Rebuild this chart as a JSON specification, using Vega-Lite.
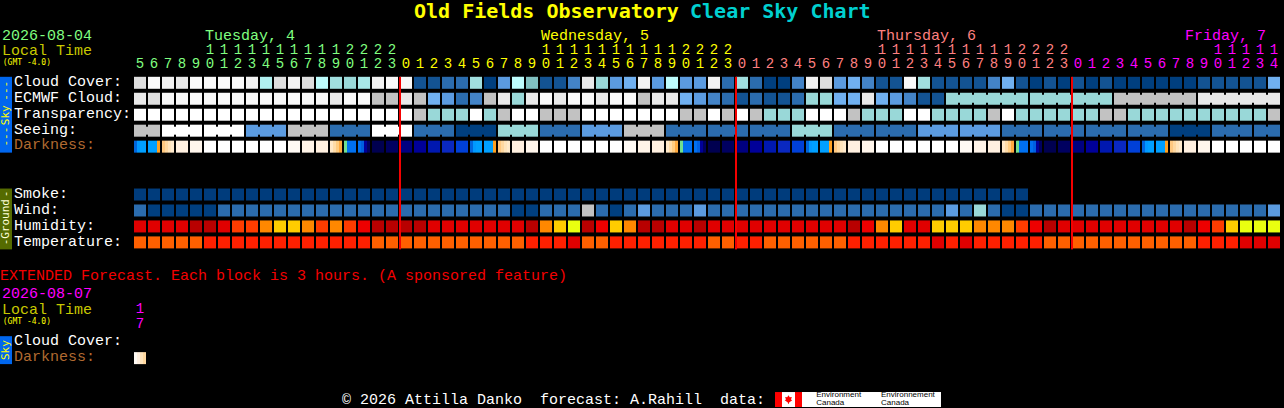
{"$schema":"https://vega.github.io/schema/vega-lite/v6.json","width":1284,"height":408,"padding":0,"autosize":{"type":"fit","contains":"padding"},"background":"#000000","config":{"view":{"stroke":null}},
"datasets":{
"cells":[
{"c":0,"r":0,"v":"d"},{"c":1,"r":0,"v":"f"},{"c":2,"r":0,"v":"n"},{"c":3,"r":0,"v":"e"},{"c":4,"r":0,"v":"f"},{"c":5,"r":0,"v":"f"},{"c":6,"r":0,"v":"f"},{"c":7,"r":0,"v":"f"},{"c":8,"r":0,"v":"n"},{"c":9,"r":0,"v":"u"},{"c":10,"r":0,"v":"d"},{"c":11,"r":0,"v":"n"},{"c":12,"r":0,"v":"d"},{"c":13,"r":0,"v":"y"},{"c":14,"r":0,"v":"a"},{"c":15,"r":0,"v":"t"},{"c":16,"r":0,"v":"i"},{"c":17,"r":0,"v":"n"},{"c":18,"r":0,"v":"f"},{"c":19,"r":0,"v":"f"},{"c":20,"r":0,"v":"1"},{"c":21,"r":0,"v":"1"},{"c":22,"r":0,"v":"2"},{"c":23,"r":0,"v":"2"},{"c":24,"r":0,"v":"a"},{"c":25,"r":0,"v":"0"},{"c":26,"r":0,"v":"4"},{"c":27,"r":0,"v":"y"},{"c":28,"r":0,"v":"x"},{"c":29,"r":0,"v":"1"},{"c":30,"r":0,"v":"1"},{"c":31,"r":0,"v":"3"},{"c":32,"r":0,"v":"e"},{"c":33,"r":0,"v":"t"},{"c":34,"r":0,"v":"4"},{"c":35,"r":0,"v":"5"},{"c":36,"r":0,"v":"n"},{"c":37,"r":0,"v":"4"},{"c":38,"r":0,"v":"y"},{"c":39,"r":0,"v":"4"},{"c":40,"r":0,"v":"4"},{"c":41,"r":0,"v":"n"},{"c":42,"r":0,"v":"2"},{"c":43,"r":0,"v":"a"},{"c":44,"r":0,"v":"2"},{"c":45,"r":0,"v":"0"},{"c":46,"r":0,"v":"0"},{"c":47,"r":0,"v":"3"},{"c":48,"r":0,"v":"n"},{"c":49,"r":0,"v":"d"},{"c":50,"r":0,"v":"4"},{"c":51,"r":0,"v":"5"},{"c":52,"r":0,"v":"3"},{"c":53,"r":0,"v":"1"},{"c":54,"r":0,"v":"1"},{"c":55,"r":0,"v":"f"},{"c":56,"r":0,"v":"a"},{"c":57,"r":0,"v":"1"},{"c":58,"r":0,"v":"1"},{"c":59,"r":0,"v":"1"},{"c":60,"r":0,"v":"1"},{"c":61,"r":0,"v":"3"},{"c":62,"r":0,"v":"5"},{"c":63,"r":0,"v":"1"},{"c":64,"r":0,"v":"0"},{"c":65,"r":0,"v":"1"},{"c":66,"r":0,"v":"0"},{"c":67,"r":0,"v":"1"},{"c":68,"r":0,"v":"0"},{"c":69,"r":0,"v":"1"},{"c":70,"r":0,"v":"0"},{"c":71,"r":0,"v":"0"},{"c":72,"r":0,"v":"0"},{"c":73,"r":0,"v":"0"},{"c":74,"r":0,"v":"0"},{"c":75,"r":0,"v":"0"},{"c":76,"r":0,"v":"1"},{"c":77,"r":0,"v":"1"},{"c":78,"r":0,"v":"1"},{"c":79,"r":0,"v":"1"},{"c":80,"r":0,"v":"1"},{"c":81,"r":0,"v":"5"},
{"c":0,"r":1,"v":"e"},{"c":1,"r":1,"v":"d"},{"c":2,"r":1,"v":"f"},{"c":3,"r":1,"v":"f"},{"c":4,"r":1,"v":"f"},{"c":5,"r":1,"v":"f"},{"c":6,"r":1,"v":"f"},{"c":7,"r":1,"v":"f"},{"c":8,"r":1,"v":"f"},{"c":9,"r":1,"v":"f"},{"c":10,"r":1,"v":"f"},{"c":11,"r":1,"v":"f"},{"c":12,"r":1,"v":"f"},{"c":13,"r":1,"v":"f"},{"c":14,"r":1,"v":"e"},{"c":15,"r":1,"v":"f"},{"c":16,"r":1,"v":"f"},{"c":17,"r":1,"v":"g"},{"c":18,"r":1,"v":"g"},{"c":19,"r":1,"v":"e"},{"c":20,"r":1,"v":"g"},{"c":21,"r":1,"v":"5"},{"c":22,"r":1,"v":"4"},{"c":23,"r":1,"v":"2"},{"c":24,"r":1,"v":"3"},{"c":25,"r":1,"v":"g"},{"c":26,"r":1,"v":"e"},{"c":27,"r":1,"v":"t"},{"c":28,"r":1,"v":"e"},{"c":29,"r":1,"v":"f"},{"c":30,"r":1,"v":"e"},{"c":31,"r":1,"v":"f"},{"c":32,"r":1,"v":"f"},{"c":33,"r":1,"v":"e"},{"c":34,"r":1,"v":"f"},{"c":35,"r":1,"v":"f"},{"c":36,"r":1,"v":"g"},{"c":37,"r":1,"v":"e"},{"c":38,"r":1,"v":"e"},{"c":39,"r":1,"v":"5"},{"c":40,"r":1,"v":"4"},{"c":41,"r":1,"v":"3"},{"c":42,"r":1,"v":"2"},{"c":43,"r":1,"v":"1"},{"c":44,"r":1,"v":"2"},{"c":45,"r":1,"v":"1"},{"c":46,"r":1,"v":"1"},{"c":47,"r":1,"v":"2"},{"c":48,"r":1,"v":"t"},{"c":49,"r":1,"v":"t"},{"c":50,"r":1,"v":"5"},{"c":51,"r":1,"v":"5"},{"c":52,"r":1,"v":"e"},{"c":53,"r":1,"v":"5"},{"c":54,"r":1,"v":"4"},{"c":55,"r":1,"v":"3"},{"c":56,"r":1,"v":"1"},{"c":57,"r":1,"v":"1"},{"c":58,"r":1,"v":"t"},{"c":59,"r":1,"v":"t"},{"c":60,"r":1,"v":"t"},{"c":61,"r":1,"v":"t"},{"c":62,"r":1,"v":"t"},{"c":63,"r":1,"v":"t"},{"c":64,"r":1,"v":"t"},{"c":65,"r":1,"v":"t"},{"c":66,"r":1,"v":"t"},{"c":67,"r":1,"v":"t"},{"c":68,"r":1,"v":"t"},{"c":69,"r":1,"v":"t"},{"c":70,"r":1,"v":"g"},{"c":71,"r":1,"v":"g"},{"c":72,"r":1,"v":"g"},{"c":73,"r":1,"v":"g"},{"c":74,"r":1,"v":"g"},{"c":75,"r":1,"v":"g"},{"c":76,"r":1,"v":"e"},{"c":77,"r":1,"v":"e"},{"c":78,"r":1,"v":"e"},{"c":79,"r":1,"v":"e"},{"c":80,"r":1,"v":"e"},{"c":81,"r":1,"v":"e"},
{"c":0,"r":2,"v":"W"},{"c":1,"r":2,"v":"W"},{"c":2,"r":2,"v":"W"},{"c":3,"r":2,"v":"W"},{"c":4,"r":2,"v":"W"},{"c":5,"r":2,"v":"W"},{"c":6,"r":2,"v":"W"},{"c":7,"r":2,"v":"W"},{"c":8,"r":2,"v":"W"},{"c":9,"r":2,"v":"W"},{"c":10,"r":2,"v":"W"},{"c":11,"r":2,"v":"W"},{"c":12,"r":2,"v":"W"},{"c":13,"r":2,"v":"W"},{"c":14,"r":2,"v":"W"},{"c":15,"r":2,"v":"W"},{"c":16,"r":2,"v":"W"},{"c":17,"r":2,"v":"W"},{"c":18,"r":2,"v":"W"},{"c":19,"r":2,"v":"W"},{"c":20,"r":2,"v":"g"},{"c":21,"r":2,"v":"t"},{"c":22,"r":2,"v":"t"},{"c":23,"r":2,"v":"t"},{"c":24,"r":2,"v":"W"},{"c":25,"r":2,"v":"t"},{"c":26,"r":2,"v":"g"},{"c":27,"r":2,"v":"W"},{"c":28,"r":2,"v":"W"},{"c":29,"r":2,"v":"g"},{"c":30,"r":2,"v":"g"},{"c":31,"r":2,"v":"g"},{"c":32,"r":2,"v":"W"},{"c":33,"r":2,"v":"W"},{"c":34,"r":2,"v":"W"},{"c":35,"r":2,"v":"W"},{"c":36,"r":2,"v":"W"},{"c":37,"r":2,"v":"W"},{"c":38,"r":2,"v":"W"},{"c":39,"r":2,"v":"g"},{"c":40,"r":2,"v":"g"},{"c":41,"r":2,"v":"W"},{"c":42,"r":2,"v":"g"},{"c":43,"r":2,"v":"W"},{"c":44,"r":2,"v":"g"},{"c":45,"r":2,"v":"t"},{"c":46,"r":2,"v":"t"},{"c":47,"r":2,"v":"t"},{"c":48,"r":2,"v":"W"},{"c":49,"r":2,"v":"W"},{"c":50,"r":2,"v":"W"},{"c":51,"r":2,"v":"g"},{"c":52,"r":2,"v":"t"},{"c":53,"r":2,"v":"t"},{"c":54,"r":2,"v":"t"},{"c":55,"r":2,"v":"W"},{"c":56,"r":2,"v":"W"},{"c":57,"r":2,"v":"t"},{"c":58,"r":2,"v":"t"},{"c":59,"r":2,"v":"t"},{"c":60,"r":2,"v":"t"},{"c":61,"r":2,"v":"g"},{"c":62,"r":2,"v":"W"},{"c":63,"r":2,"v":"t"},{"c":64,"r":2,"v":"t"},{"c":65,"r":2,"v":"t"},{"c":66,"r":2,"v":"t"},{"c":67,"r":2,"v":"t"},{"c":68,"r":2,"v":"t"},{"c":69,"r":2,"v":"g"},{"c":70,"r":2,"v":"g"},{"c":71,"r":2,"v":"t"},{"c":72,"r":2,"v":"t"},{"c":73,"r":2,"v":"t"},{"c":74,"r":2,"v":"t"},{"c":75,"r":2,"v":"t"},{"c":76,"r":2,"v":"t"},{"c":77,"r":2,"v":"t"},{"c":78,"r":2,"v":"t"},{"c":79,"r":2,"v":"t"},{"c":80,"r":2,"v":"t"},{"c":81,"r":2,"v":"g"},
{"c":0,"r":3,"v":"g"},{"c":1,"r":3,"v":"g"},{"c":2,"r":3,"v":"W"},{"c":3,"r":3,"v":"W"},{"c":4,"r":3,"v":"W"},{"c":5,"r":3,"v":"W"},{"c":6,"r":3,"v":"W"},{"c":7,"r":3,"v":"W"},{"c":8,"r":3,"v":"4"},{"c":9,"r":3,"v":"4"},{"c":10,"r":3,"v":"4"},{"c":11,"r":3,"v":"g"},{"c":12,"r":3,"v":"g"},{"c":13,"r":3,"v":"g"},{"c":14,"r":3,"v":"2"},{"c":15,"r":3,"v":"2"},{"c":16,"r":3,"v":"2"},{"c":17,"r":3,"v":"W"},{"c":18,"r":3,"v":"W"},{"c":19,"r":3,"v":"W"},{"c":20,"r":3,"v":"2"},{"c":21,"r":3,"v":"2"},{"c":22,"r":3,"v":"2"},{"c":23,"r":3,"v":"0"},{"c":24,"r":3,"v":"0"},{"c":25,"r":3,"v":"0"},{"c":26,"r":3,"v":"t"},{"c":27,"r":3,"v":"t"},{"c":28,"r":3,"v":"t"},{"c":29,"r":3,"v":"2"},{"c":30,"r":3,"v":"2"},{"c":31,"r":3,"v":"2"},{"c":32,"r":3,"v":"4"},{"c":33,"r":3,"v":"4"},{"c":34,"r":3,"v":"4"},{"c":35,"r":3,"v":"g"},{"c":36,"r":3,"v":"g"},{"c":37,"r":3,"v":"g"},{"c":38,"r":3,"v":"2"},{"c":39,"r":3,"v":"2"},{"c":40,"r":3,"v":"2"},{"c":41,"r":3,"v":"2"},{"c":42,"r":3,"v":"2"},{"c":43,"r":3,"v":"2"},{"c":44,"r":3,"v":"2"},{"c":45,"r":3,"v":"2"},{"c":46,"r":3,"v":"2"},{"c":47,"r":3,"v":"t"},{"c":48,"r":3,"v":"t"},{"c":49,"r":3,"v":"t"},{"c":50,"r":3,"v":"2"},{"c":51,"r":3,"v":"2"},{"c":52,"r":3,"v":"2"},{"c":53,"r":3,"v":"2"},{"c":54,"r":3,"v":"2"},{"c":55,"r":3,"v":"2"},{"c":56,"r":3,"v":"4"},{"c":57,"r":3,"v":"4"},{"c":58,"r":3,"v":"4"},{"c":59,"r":3,"v":"4"},{"c":60,"r":3,"v":"4"},{"c":61,"r":3,"v":"4"},{"c":62,"r":3,"v":"2"},{"c":63,"r":3,"v":"2"},{"c":64,"r":3,"v":"2"},{"c":65,"r":3,"v":"2"},{"c":66,"r":3,"v":"2"},{"c":67,"r":3,"v":"2"},{"c":68,"r":3,"v":"2"},{"c":69,"r":3,"v":"2"},{"c":70,"r":3,"v":"2"},{"c":71,"r":3,"v":"2"},{"c":72,"r":3,"v":"2"},{"c":73,"r":3,"v":"2"},{"c":74,"r":3,"v":"0"},{"c":75,"r":3,"v":"0"},{"c":76,"r":3,"v":"0"},{"c":77,"r":3,"v":"2"},{"c":78,"r":3,"v":"2"},{"c":79,"r":3,"v":"2"},{"c":80,"r":3,"v":"2"},{"c":81,"r":3,"v":"2"},
{"c":3,"r":4,"v":"p5"},{"c":4,"r":4,"v":"p6"},{"c":5,"r":4,"v":"W"},{"c":6,"r":4,"v":"W"},{"c":7,"r":4,"v":"W"},{"c":8,"r":4,"v":"W"},{"c":9,"r":4,"v":"W"},{"c":10,"r":4,"v":"W"},{"c":11,"r":4,"v":"p7"},{"c":12,"r":4,"v":"p8"},{"c":13,"r":4,"v":"p5"},{"c":17,"r":4,"v":"n3"},{"c":18,"r":4,"v":"n2"},{"c":19,"r":4,"v":"n4"},{"c":20,"r":4,"v":"n1"},{"c":21,"r":4,"v":"n5"},{"c":22,"r":4,"v":"n6"},{"c":23,"r":4,"v":"n7"},{"c":27,"r":4,"v":"p5"},{"c":28,"r":4,"v":"p6"},{"c":29,"r":4,"v":"W"},{"c":30,"r":4,"v":"W"},{"c":31,"r":4,"v":"W"},{"c":32,"r":4,"v":"W"},{"c":33,"r":4,"v":"W"},{"c":34,"r":4,"v":"W"},{"c":35,"r":4,"v":"p7"},{"c":36,"r":4,"v":"p8"},{"c":37,"r":4,"v":"p5"},{"c":41,"r":4,"v":"n3"},{"c":42,"r":4,"v":"n2"},{"c":43,"r":4,"v":"n4"},{"c":44,"r":4,"v":"n1"},{"c":45,"r":4,"v":"n5"},{"c":46,"r":4,"v":"n6"},{"c":47,"r":4,"v":"n7"},{"c":51,"r":4,"v":"p5"},{"c":52,"r":4,"v":"p6"},{"c":53,"r":4,"v":"W"},{"c":54,"r":4,"v":"W"},{"c":55,"r":4,"v":"W"},{"c":56,"r":4,"v":"W"},{"c":57,"r":4,"v":"W"},{"c":58,"r":4,"v":"W"},{"c":59,"r":4,"v":"p7"},{"c":60,"r":4,"v":"p8"},{"c":61,"r":4,"v":"p5"},{"c":65,"r":4,"v":"n3"},{"c":66,"r":4,"v":"n2"},{"c":67,"r":4,"v":"n4"},{"c":68,"r":4,"v":"n1"},{"c":69,"r":4,"v":"n5"},{"c":70,"r":4,"v":"n6"},{"c":71,"r":4,"v":"n7"},{"c":75,"r":4,"v":"p5"},{"c":76,"r":4,"v":"p6"},{"c":77,"r":4,"v":"W"},{"c":78,"r":4,"v":"W"},{"c":79,"r":4,"v":"W"},{"c":80,"r":4,"v":"W"},{"c":81,"r":4,"v":"W"},
{"c":0,"r":7,"v":"s"},{"c":1,"r":7,"v":"s"},{"c":2,"r":7,"v":"s"},{"c":3,"r":7,"v":"s"},{"c":4,"r":7,"v":"s"},{"c":5,"r":7,"v":"s"},{"c":6,"r":7,"v":"s"},{"c":7,"r":7,"v":"s"},{"c":8,"r":7,"v":"s"},{"c":9,"r":7,"v":"s"},{"c":10,"r":7,"v":"s"},{"c":11,"r":7,"v":"s"},{"c":12,"r":7,"v":"s"},{"c":13,"r":7,"v":"s"},{"c":14,"r":7,"v":"s"},{"c":15,"r":7,"v":"s"},{"c":16,"r":7,"v":"s"},{"c":17,"r":7,"v":"s"},{"c":18,"r":7,"v":"s"},{"c":19,"r":7,"v":"s"},{"c":20,"r":7,"v":"s"},{"c":21,"r":7,"v":"s"},{"c":22,"r":7,"v":"s"},{"c":23,"r":7,"v":"s"},{"c":24,"r":7,"v":"s"},{"c":25,"r":7,"v":"s"},{"c":26,"r":7,"v":"s"},{"c":27,"r":7,"v":"s"},{"c":28,"r":7,"v":"s"},{"c":29,"r":7,"v":"s"},{"c":30,"r":7,"v":"s"},{"c":31,"r":7,"v":"s"},{"c":32,"r":7,"v":"s"},{"c":33,"r":7,"v":"s"},{"c":34,"r":7,"v":"s"},{"c":35,"r":7,"v":"s"},{"c":36,"r":7,"v":"s"},{"c":37,"r":7,"v":"s"},{"c":38,"r":7,"v":"s"},{"c":39,"r":7,"v":"s"},{"c":40,"r":7,"v":"s"},{"c":41,"r":7,"v":"s"},{"c":42,"r":7,"v":"s"},{"c":43,"r":7,"v":"s"},{"c":44,"r":7,"v":"s"},{"c":45,"r":7,"v":"s"},{"c":46,"r":7,"v":"s"},{"c":47,"r":7,"v":"s"},{"c":48,"r":7,"v":"s"},{"c":49,"r":7,"v":"s"},{"c":50,"r":7,"v":"s"},{"c":51,"r":7,"v":"s"},{"c":52,"r":7,"v":"s"},{"c":53,"r":7,"v":"s"},{"c":54,"r":7,"v":"s"},{"c":55,"r":7,"v":"s"},{"c":56,"r":7,"v":"s"},{"c":57,"r":7,"v":"s"},{"c":58,"r":7,"v":"s"},{"c":59,"r":7,"v":"s"},{"c":60,"r":7,"v":"s"},{"c":61,"r":7,"v":"s"},{"c":62,"r":7,"v":"s"},{"c":63,"r":7,"v":"s"},
{"c":0,"r":8,"v":"2"},{"c":1,"r":8,"v":"0"},{"c":2,"r":8,"v":"0"},{"c":3,"r":8,"v":"0"},{"c":4,"r":8,"v":"0"},{"c":5,"r":8,"v":"0"},{"c":6,"r":8,"v":"2"},{"c":7,"r":8,"v":"2"},{"c":8,"r":8,"v":"2"},{"c":9,"r":8,"v":"2"},{"c":10,"r":8,"v":"2"},{"c":11,"r":8,"v":"2"},{"c":12,"r":8,"v":"2"},{"c":13,"r":8,"v":"2"},{"c":14,"r":8,"v":"2"},{"c":15,"r":8,"v":"2"},{"c":16,"r":8,"v":"2"},{"c":17,"r":8,"v":"2"},{"c":18,"r":8,"v":"2"},{"c":19,"r":8,"v":"2"},{"c":20,"r":8,"v":"2"},{"c":21,"r":8,"v":"2"},{"c":22,"r":8,"v":"2"},{"c":23,"r":8,"v":"2"},{"c":24,"r":8,"v":"2"},{"c":25,"r":8,"v":"2"},{"c":26,"r":8,"v":"2"},{"c":27,"r":8,"v":"0"},{"c":28,"r":8,"v":"0"},{"c":29,"r":8,"v":"2"},{"c":30,"r":8,"v":"2"},{"c":31,"r":8,"v":"2"},{"c":32,"r":8,"v":"g"},{"c":33,"r":8,"v":"2"},{"c":34,"r":8,"v":"0"},{"c":35,"r":8,"v":"2"},{"c":36,"r":8,"v":"4"},{"c":37,"r":8,"v":"2"},{"c":38,"r":8,"v":"2"},{"c":39,"r":8,"v":"2"},{"c":40,"r":8,"v":"4"},{"c":41,"r":8,"v":"2"},{"c":42,"r":8,"v":"2"},{"c":43,"r":8,"v":"2"},{"c":44,"r":8,"v":"2"},{"c":45,"r":8,"v":"2"},{"c":46,"r":8,"v":"2"},{"c":47,"r":8,"v":"2"},{"c":48,"r":8,"v":"2"},{"c":49,"r":8,"v":"2"},{"c":50,"r":8,"v":"2"},{"c":51,"r":8,"v":"2"},{"c":52,"r":8,"v":"2"},{"c":53,"r":8,"v":"2"},{"c":54,"r":8,"v":"2"},{"c":55,"r":8,"v":"2"},{"c":56,"r":8,"v":"2"},{"c":57,"r":8,"v":"2"},{"c":58,"r":8,"v":"4"},{"c":59,"r":8,"v":"2"},{"c":60,"r":8,"v":"t"},{"c":61,"r":8,"v":"2"},{"c":62,"r":8,"v":"0"},{"c":63,"r":8,"v":"0"},{"c":64,"r":8,"v":"2"},{"c":65,"r":8,"v":"2"},{"c":66,"r":8,"v":"2"},{"c":67,"r":8,"v":"2"},{"c":68,"r":8,"v":"2"},{"c":69,"r":8,"v":"2"},{"c":70,"r":8,"v":"2"},{"c":71,"r":8,"v":"2"},{"c":72,"r":8,"v":"2"},{"c":73,"r":8,"v":"2"},{"c":74,"r":8,"v":"2"},{"c":75,"r":8,"v":"2"},{"c":76,"r":8,"v":"2"},{"c":77,"r":8,"v":"2"},{"c":78,"r":8,"v":"2"},{"c":79,"r":8,"v":"2"},{"c":80,"r":8,"v":"2"},{"c":81,"r":8,"v":"4"},
{"c":0,"r":9,"v":"h0"},{"c":1,"r":9,"v":"h0"},{"c":2,"r":9,"v":"h0"},{"c":3,"r":9,"v":"h0"},{"c":4,"r":9,"v":"h1"},{"c":5,"r":9,"v":"h1"},{"c":6,"r":9,"v":"h0"},{"c":7,"r":9,"v":"h2"},{"c":8,"r":9,"v":"h2"},{"c":9,"r":9,"v":"h3"},{"c":10,"r":9,"v":"h4"},{"c":11,"r":9,"v":"h4"},{"c":12,"r":9,"v":"h3"},{"c":13,"r":9,"v":"h2"},{"c":14,"r":9,"v":"h3"},{"c":15,"r":9,"v":"h2"},{"c":16,"r":9,"v":"h6"},{"c":17,"r":9,"v":"h1"},{"c":18,"r":9,"v":"h1"},{"c":19,"r":9,"v":"h1"},{"c":20,"r":9,"v":"h1"},{"c":21,"r":9,"v":"h0"},{"c":22,"r":9,"v":"h0"},{"c":23,"r":9,"v":"h0"},{"c":24,"r":9,"v":"h0"},{"c":25,"r":9,"v":"h0"},{"c":26,"r":9,"v":"h0"},{"c":27,"r":9,"v":"h0"},{"c":28,"r":9,"v":"h1"},{"c":29,"r":9,"v":"h3"},{"c":30,"r":9,"v":"h4"},{"c":31,"r":9,"v":"h5"},{"c":32,"r":9,"v":"h1"},{"c":33,"r":9,"v":"h6"},{"c":34,"r":9,"v":"h4"},{"c":35,"r":9,"v":"h3"},{"c":36,"r":9,"v":"h1"},{"c":37,"r":9,"v":"h1"},{"c":38,"r":9,"v":"h0"},{"c":39,"r":9,"v":"h0"},{"c":40,"r":9,"v":"h1"},{"c":41,"r":9,"v":"h0"},{"c":42,"r":9,"v":"h0"},{"c":43,"r":9,"v":"h0"},{"c":44,"r":9,"v":"h0"},{"c":45,"r":9,"v":"h0"},{"c":46,"r":9,"v":"h0"},{"c":47,"r":9,"v":"h0"},{"c":48,"r":9,"v":"h0"},{"c":49,"r":9,"v":"h0"},{"c":50,"r":9,"v":"h0"},{"c":51,"r":9,"v":"h1"},{"c":52,"r":9,"v":"h6"},{"c":53,"r":9,"v":"h3"},{"c":54,"r":9,"v":"h4"},{"c":55,"r":9,"v":"h0"},{"c":56,"r":9,"v":"h0"},{"c":57,"r":9,"v":"h4"},{"c":58,"r":9,"v":"h4"},{"c":59,"r":9,"v":"h4"},{"c":60,"r":9,"v":"h3"},{"c":61,"r":9,"v":"h3"},{"c":62,"r":9,"v":"h3"},{"c":63,"r":9,"v":"h2"},{"c":64,"r":9,"v":"h6"},{"c":65,"r":9,"v":"h1"},{"c":66,"r":9,"v":"h0"},{"c":67,"r":9,"v":"h0"},{"c":68,"r":9,"v":"h0"},{"c":69,"r":9,"v":"h0"},{"c":70,"r":9,"v":"h0"},{"c":71,"r":9,"v":"h0"},{"c":72,"r":9,"v":"h0"},{"c":73,"r":9,"v":"h0"},{"c":74,"r":9,"v":"h0"},{"c":75,"r":9,"v":"h1"},{"c":76,"r":9,"v":"h6"},{"c":77,"r":9,"v":"h2"},{"c":78,"r":9,"v":"h4"},{"c":79,"r":9,"v":"h5"},{"c":80,"r":9,"v":"h5"},{"c":81,"r":9,"v":"h5"},
{"c":0,"r":10,"v":"T0"},{"c":1,"r":10,"v":"T0"},{"c":2,"r":10,"v":"T0"},{"c":3,"r":10,"v":"T0"},{"c":4,"r":10,"v":"T0"},{"c":5,"r":10,"v":"T1"},{"c":6,"r":10,"v":"T1"},{"c":7,"r":10,"v":"T1"},{"c":8,"r":10,"v":"T1"},{"c":9,"r":10,"v":"T1"},{"c":10,"r":10,"v":"T1"},{"c":11,"r":10,"v":"T1"},{"c":12,"r":10,"v":"T1"},{"c":13,"r":10,"v":"T1"},{"c":14,"r":10,"v":"T1"},{"c":15,"r":10,"v":"T1"},{"c":16,"r":10,"v":"T1"},{"c":17,"r":10,"v":"T0"},{"c":18,"r":10,"v":"T0"},{"c":19,"r":10,"v":"T0"},{"c":20,"r":10,"v":"T0"},{"c":21,"r":10,"v":"T0"},{"c":22,"r":10,"v":"T0"},{"c":23,"r":10,"v":"T0"},{"c":24,"r":10,"v":"T0"},{"c":25,"r":10,"v":"T0"},{"c":26,"r":10,"v":"T0"},{"c":27,"r":10,"v":"T0"},{"c":28,"r":10,"v":"T1"},{"c":29,"r":10,"v":"T1"},{"c":30,"r":10,"v":"T1"},{"c":31,"r":10,"v":"h0"},{"c":32,"r":10,"v":"T0"},{"c":33,"r":10,"v":"T0"},{"c":34,"r":10,"v":"T1"},{"c":35,"r":10,"v":"T1"},{"c":36,"r":10,"v":"T1"},{"c":37,"r":10,"v":"T1"},{"c":38,"r":10,"v":"T1"},{"c":39,"r":10,"v":"T1"},{"c":40,"r":10,"v":"T1"},{"c":41,"r":10,"v":"T0"},{"c":42,"r":10,"v":"T0"},{"c":43,"r":10,"v":"T1"},{"c":44,"r":10,"v":"T1"},{"c":45,"r":10,"v":"T0"},{"c":46,"r":10,"v":"T0"},{"c":47,"r":10,"v":"T0"},{"c":48,"r":10,"v":"T0"},{"c":49,"r":10,"v":"T0"},{"c":50,"r":10,"v":"T0"},{"c":51,"r":10,"v":"T1"},{"c":52,"r":10,"v":"T1"},{"c":53,"r":10,"v":"T1"},{"c":54,"r":10,"v":"T1"},{"c":55,"r":10,"v":"T1"},{"c":56,"r":10,"v":"T1"},{"c":57,"r":10,"v":"h0"},{"c":58,"r":10,"v":"T1"},{"c":59,"r":10,"v":"h0"},{"c":60,"r":10,"v":"T1"},{"c":61,"r":10,"v":"T1"},{"c":62,"r":10,"v":"T1"},{"c":63,"r":10,"v":"T1"},{"c":64,"r":10,"v":"T1"},{"c":65,"r":10,"v":"T0"},{"c":66,"r":10,"v":"T0"},{"c":67,"r":10,"v":"T0"},{"c":68,"r":10,"v":"T0"},{"c":69,"r":10,"v":"T0"},{"c":70,"r":10,"v":"T0"},{"c":71,"r":10,"v":"T0"},{"c":72,"r":10,"v":"T0"},{"c":73,"r":10,"v":"T0"},{"c":74,"r":10,"v":"T0"},{"c":75,"r":10,"v":"T0"},{"c":76,"r":10,"v":"T1"},{"c":77,"r":10,"v":"T1"},{"c":78,"r":10,"v":"T1"},{"c":79,"r":10,"v":"h0"},{"c":80,"r":10,"v":"h0"},{"c":81,"r":10,"v":"h0"}
],
"links":[
{"c":0.5,"r":3,"v":"g"},{"c":2.5,"r":3,"v":"W"},{"c":3.5,"r":3,"v":"W"},{"c":5.5,"r":3,"v":"W"},{"c":6.5,"r":3,"v":"W"},{"c":8.5,"r":3,"v":"4"},{"c":9.5,"r":3,"v":"4"},{"c":11.5,"r":3,"v":"g"},{"c":12.5,"r":3,"v":"g"},{"c":14.5,"r":3,"v":"2"},{"c":15.5,"r":3,"v":"2"},{"c":17.5,"r":3,"v":"W"},{"c":18.5,"r":3,"v":"W"},{"c":20.5,"r":3,"v":"2"},{"c":21.5,"r":3,"v":"2"},{"c":23.5,"r":3,"v":"0"},{"c":24.5,"r":3,"v":"0"},{"c":26.5,"r":3,"v":"t"},{"c":27.5,"r":3,"v":"t"},{"c":29.5,"r":3,"v":"2"},{"c":30.5,"r":3,"v":"2"},{"c":32.5,"r":3,"v":"4"},{"c":33.5,"r":3,"v":"4"},{"c":35.5,"r":3,"v":"g"},{"c":36.5,"r":3,"v":"g"},{"c":38.5,"r":3,"v":"2"},{"c":39.5,"r":3,"v":"2"},{"c":41.5,"r":3,"v":"2"},{"c":42.5,"r":3,"v":"2"},{"c":44.5,"r":3,"v":"2"},{"c":45.5,"r":3,"v":"2"},{"c":47.5,"r":3,"v":"t"},{"c":48.5,"r":3,"v":"t"},{"c":50.5,"r":3,"v":"2"},{"c":51.5,"r":3,"v":"2"},{"c":53.5,"r":3,"v":"2"},{"c":54.5,"r":3,"v":"2"},{"c":56.5,"r":3,"v":"4"},{"c":57.5,"r":3,"v":"4"},{"c":59.5,"r":3,"v":"4"},{"c":60.5,"r":3,"v":"4"},{"c":62.5,"r":3,"v":"2"},{"c":63.5,"r":3,"v":"2"},{"c":65.5,"r":3,"v":"2"},{"c":66.5,"r":3,"v":"2"},{"c":68.5,"r":3,"v":"2"},{"c":69.5,"r":3,"v":"2"},{"c":71.5,"r":3,"v":"2"},{"c":72.5,"r":3,"v":"2"},{"c":74.5,"r":3,"v":"0"},{"c":75.5,"r":3,"v":"0"},{"c":77.5,"r":3,"v":"2"},{"c":78.5,"r":3,"v":"2"},{"c":80.5,"r":3,"v":"2"},
{"c":58.5,"r":1,"v":"t"},{"c":59.5,"r":1,"v":"t"},{"c":60.5,"r":1,"v":"t"},{"c":61.5,"r":1,"v":"t"},{"c":62.5,"r":1,"v":"t"},{"c":64.5,"r":1,"v":"t"},{"c":65.5,"r":1,"v":"t"},{"c":66.5,"r":1,"v":"t"},{"c":67.5,"r":1,"v":"t"},{"c":68.5,"r":1,"v":"t"},{"c":70.5,"r":1,"v":"g"},{"c":71.5,"r":1,"v":"g"},{"c":72.5,"r":1,"v":"g"},{"c":73.5,"r":1,"v":"g"},{"c":74.5,"r":1,"v":"g"},{"c":76.5,"r":1,"v":"e"},{"c":77.5,"r":1,"v":"e"},{"c":78.5,"r":1,"v":"e"},{"c":79.5,"r":1,"v":"e"},{"c":80.5,"r":1,"v":"e"}
],
"slices":[
{"c":-0.3214,"r":4,"v":"A"},{"c":-0.1071,"r":4,"v":"B"},{"c":0.1071,"r":4,"v":"C"},{"c":0.3214,"r":4,"v":"C"},
{"c":0.6786,"r":4,"v":"C"},{"c":0.8929,"r":4,"v":"C"},{"c":1.1071,"r":4,"v":"C"},{"c":1.3214,"r":4,"v":"O"},
{"c":1.6786,"r":4,"v":"p1"},{"c":1.8929,"r":4,"v":"p2"},{"c":2.1071,"r":4,"v":"p3"},{"c":2.3214,"r":4,"v":"p4"},
{"c":13.6786,"r":4,"v":"p9"},{"c":13.8929,"r":4,"v":"p10"},{"c":14.1071,"r":4,"v":"p11"},{"c":14.3214,"r":4,"v":"p12"},
{"c":14.6786,"r":4,"v":"g1"},{"c":14.8929,"r":4,"v":"b1"},{"c":15.1071,"r":4,"v":"b1"},{"c":15.3214,"r":4,"v":"b1"},
{"c":15.6786,"r":4,"v":"b1"},{"c":15.8929,"r":4,"v":"b2"},{"c":16.1071,"r":4,"v":"n1"},{"c":16.3214,"r":4,"v":"n2"},
{"c":23.6786,"r":4,"v":"A"},{"c":23.8929,"r":4,"v":"B"},{"c":24.1071,"r":4,"v":"C"},{"c":24.3214,"r":4,"v":"C"},
{"c":24.6786,"r":4,"v":"C"},{"c":24.8929,"r":4,"v":"C"},{"c":25.1071,"r":4,"v":"C"},{"c":25.3214,"r":4,"v":"O"},
{"c":25.6786,"r":4,"v":"p1"},{"c":25.8929,"r":4,"v":"p2"},{"c":26.1071,"r":4,"v":"p3"},{"c":26.3214,"r":4,"v":"p4"},
{"c":37.6786,"r":4,"v":"p9"},{"c":37.8929,"r":4,"v":"p10"},{"c":38.1071,"r":4,"v":"p11"},{"c":38.3214,"r":4,"v":"p12"},
{"c":38.6786,"r":4,"v":"g1"},{"c":38.8929,"r":4,"v":"b1"},{"c":39.1071,"r":4,"v":"b1"},{"c":39.3214,"r":4,"v":"b1"},
{"c":39.6786,"r":4,"v":"b1"},{"c":39.8929,"r":4,"v":"b2"},{"c":40.1071,"r":4,"v":"n1"},{"c":40.3214,"r":4,"v":"n2"},
{"c":47.6786,"r":4,"v":"A"},{"c":47.8929,"r":4,"v":"B"},{"c":48.1071,"r":4,"v":"C"},{"c":48.3214,"r":4,"v":"C"},
{"c":48.6786,"r":4,"v":"C"},{"c":48.8929,"r":4,"v":"C"},{"c":49.1071,"r":4,"v":"C"},{"c":49.3214,"r":4,"v":"O"},
{"c":49.6786,"r":4,"v":"p1"},{"c":49.8929,"r":4,"v":"p2"},{"c":50.1071,"r":4,"v":"p3"},{"c":50.3214,"r":4,"v":"p4"},
{"c":61.6786,"r":4,"v":"p9"},{"c":61.8929,"r":4,"v":"p10"},{"c":62.1071,"r":4,"v":"p11"},{"c":62.3214,"r":4,"v":"p12"},
{"c":62.6786,"r":4,"v":"g1"},{"c":62.8929,"r":4,"v":"b1"},{"c":63.1071,"r":4,"v":"b1"},{"c":63.3214,"r":4,"v":"b1"},
{"c":63.6786,"r":4,"v":"b1"},{"c":63.8929,"r":4,"v":"b2"},{"c":64.1071,"r":4,"v":"n1"},{"c":64.3214,"r":4,"v":"n2"},
{"c":71.6786,"r":4,"v":"A"},{"c":71.8929,"r":4,"v":"B"},{"c":72.1071,"r":4,"v":"C"},{"c":72.3214,"r":4,"v":"C"},
{"c":72.6786,"r":4,"v":"C"},{"c":72.8929,"r":4,"v":"C"},{"c":73.1071,"r":4,"v":"C"},{"c":73.3214,"r":4,"v":"O"},
{"c":73.6786,"r":4,"v":"p1"},{"c":73.8929,"r":4,"v":"p2"},{"c":74.1071,"r":4,"v":"p3"},{"c":74.3214,"r":4,"v":"p4"},
{"c":-0.3214,"r":17.25,"v":"p7"},{"c":-0.1071,"r":17.25,"v":"p5"},{"c":0.1071,"r":17.25,"v":"p3"},{"c":0.3214,"r":17.25,"v":"p2"}
],
"panels":[
{"c":-10,"c2":-9.1429,"r":-0.375,"r2":4.375,"v":"sky"},
{"c":-10,"c2":-9.1429,"r":6.625,"r2":10.4375,"v":"ground"},
{"c":-10,"c2":-9.1429,"r":15.875,"r2":17.625,"v":"sky"},
{"c":45.357,"c2":45.857,"r":19.375,"r2":20.3125,"v":"flag"},
{"c":45.857,"c2":46.786,"r":19.375,"r2":20.3125,"v":"W"},
{"c":46.786,"c2":47.286,"r":19.375,"r2":20.3125,"v":"flag"},
{"c":47.286,"c2":57.214,"r":19.375,"r2":20.3125,"v":"W"}
],
"lines":[
{"c":18.5714,"r":-0.375,"r2":10.4375,"v":"redline"},
{"c":42.5714,"r":-0.375,"r2":10.4375,"v":"redline"},
{"c":66.5714,"r":-0.375,"r2":10.4375,"v":"redline"}
],
"labels":[
{"c":-9.857,"r":-3,"t":"2026-08-04","v":"green"},
{"c":-9.857,"r":-2.0625,"t":"Local Time","v":"olive"},
{"c":-9,"r":-0.1,"t":"Cloud Cover:","v":"W"},
{"c":-9,"r":0.9,"t":"ECMWF Cloud:","v":"W"},
{"c":-9,"r":1.9,"t":"Transparency:","v":"W"},
{"c":-9,"r":2.9,"t":"Seeing:","v":"W"},
{"c":-9,"r":3.85,"t":"Darkness:","v":"brown"},
{"c":-9,"r":6.9,"t":"Smoke:","v":"W"},
{"c":-9,"r":7.9,"t":"Wind:","v":"W"},
{"c":-9,"r":8.9,"t":"Humidity:","v":"W"},
{"c":-9,"r":9.9,"t":"Temperature:","v":"W"},
{"c":4.643,"r":-3,"t":"Tuesday, 4","v":"green"},
{"c":28.643,"r":-3,"t":"Wednesday, 5","v":"yellow"},
{"c":52.643,"r":-3,"t":"Thursday, 6","v":"pink"},
{"c":74.643,"r":-3,"t":"Friday, 7","v":"magenta"},
{"c":-10,"r":12.06,"t":"EXTENDED Forecast. Each block is 3 hours. (A sponsored feature)","v":"redtext"},
{"c":-9.857,"r":13.19,"t":"2026-08-07","v":"magenta"},
{"c":-9.857,"r":14.19,"t":"Local Time","v":"olive"},
{"c":-9,"r":16.125,"t":"Cloud Cover:","v":"W"},
{"c":-9,"r":17.125,"t":"Darkness:","v":"brown"},
{"c":14.429,"r":19.8,"t":"© 2026 Attilla Danko\u00a0\u00a0forecast: A.Rahill\u00a0\u00a0data:","v":"W"}
],
"small":[
{"c":-9.8,"r":-1.25,"t":"(GMT -4.0)","v":"yellow"},
{"c":-9.8,"r":15,"t":"(GMT -4.0)","v":"yellow"}
],
"logos":[
{"c":48.3,"r":19.58,"t":"Environment","v":"black"},
{"c":48.3,"r":20.08,"t":"Canada","v":"black"},
{"c":52.93,"r":19.58,"t":"Environnement","v":"black"},
{"c":52.93,"r":20.08,"t":"Canada","v":"black"}
],
"leaf":[{"c":46.32,"r":19.84,"v":"flag"}],
"titles":[
{"c":19.571,"r":-4.4375,"t":"Old Fields Observatory","v":"yellow"},
{"c":39.286,"r":-4.4375,"t":"Clear Sky Chart","v":"cyan"}
],
"side":[
{"c":-9.571,"r":0.5,"t":"---","v":"yellow"},
{"c":-9.571,"r":2.03,"t":"Sky","v":"yellow"},
{"c":-9.571,"r":3.375,"t":"---","v":"yellow"},
{"c":-9.571,"r":6.97,"t":"-","v":"cream"},
{"c":-9.571,"r":8.53,"t":"Ground","v":"cream"},
{"c":-9.571,"r":9.97,"t":"-","v":"cream"},
{"c":-9.571,"r":16.75,"t":"Sky","v":"yellow"}
],
"digits":[
{"c":0,"r":-1.1875,"t":"5","v":"green"},{"c":1,"r":-1.1875,"t":"6","v":"green"},{"c":2,"r":-1.1875,"t":"7","v":"green"},{"c":3,"r":-1.1875,"t":"8","v":"green"},{"c":4,"r":-1.1875,"t":"9","v":"green"},{"c":5,"r":-1.1875,"t":"0","v":"green"},{"c":6,"r":-1.1875,"t":"1","v":"green"},{"c":7,"r":-1.1875,"t":"2","v":"green"},{"c":8,"r":-1.1875,"t":"3","v":"green"},{"c":9,"r":-1.1875,"t":"4","v":"green"},{"c":10,"r":-1.1875,"t":"5","v":"green"},{"c":11,"r":-1.1875,"t":"6","v":"green"},{"c":12,"r":-1.1875,"t":"7","v":"green"},{"c":13,"r":-1.1875,"t":"8","v":"green"},{"c":14,"r":-1.1875,"t":"9","v":"green"},{"c":15,"r":-1.1875,"t":"0","v":"green"},{"c":16,"r":-1.1875,"t":"1","v":"green"},{"c":17,"r":-1.1875,"t":"2","v":"green"},{"c":18,"r":-1.1875,"t":"3","v":"green"},
{"c":19,"r":-1.1875,"t":"0","v":"yellow"},{"c":20,"r":-1.1875,"t":"1","v":"yellow"},{"c":21,"r":-1.1875,"t":"2","v":"yellow"},{"c":22,"r":-1.1875,"t":"3","v":"yellow"},{"c":23,"r":-1.1875,"t":"4","v":"yellow"},{"c":24,"r":-1.1875,"t":"5","v":"yellow"},{"c":25,"r":-1.1875,"t":"6","v":"yellow"},{"c":26,"r":-1.1875,"t":"7","v":"yellow"},{"c":27,"r":-1.1875,"t":"8","v":"yellow"},{"c":28,"r":-1.1875,"t":"9","v":"yellow"},{"c":29,"r":-1.1875,"t":"0","v":"yellow"},{"c":30,"r":-1.1875,"t":"1","v":"yellow"},{"c":31,"r":-1.1875,"t":"2","v":"yellow"},{"c":32,"r":-1.1875,"t":"3","v":"yellow"},{"c":33,"r":-1.1875,"t":"4","v":"yellow"},{"c":34,"r":-1.1875,"t":"5","v":"yellow"},{"c":35,"r":-1.1875,"t":"6","v":"yellow"},{"c":36,"r":-1.1875,"t":"7","v":"yellow"},{"c":37,"r":-1.1875,"t":"8","v":"yellow"},{"c":38,"r":-1.1875,"t":"9","v":"yellow"},{"c":39,"r":-1.1875,"t":"0","v":"yellow"},{"c":40,"r":-1.1875,"t":"1","v":"yellow"},{"c":41,"r":-1.1875,"t":"2","v":"yellow"},{"c":42,"r":-1.1875,"t":"3","v":"yellow"},
{"c":43,"r":-1.1875,"t":"0","v":"pink"},{"c":44,"r":-1.1875,"t":"1","v":"pink"},{"c":45,"r":-1.1875,"t":"2","v":"pink"},{"c":46,"r":-1.1875,"t":"3","v":"pink"},{"c":47,"r":-1.1875,"t":"4","v":"pink"},{"c":48,"r":-1.1875,"t":"5","v":"pink"},{"c":49,"r":-1.1875,"t":"6","v":"pink"},{"c":50,"r":-1.1875,"t":"7","v":"pink"},{"c":51,"r":-1.1875,"t":"8","v":"pink"},{"c":52,"r":-1.1875,"t":"9","v":"pink"},{"c":53,"r":-1.1875,"t":"0","v":"pink"},{"c":54,"r":-1.1875,"t":"1","v":"pink"},{"c":55,"r":-1.1875,"t":"2","v":"pink"},{"c":56,"r":-1.1875,"t":"3","v":"pink"},{"c":57,"r":-1.1875,"t":"4","v":"pink"},{"c":58,"r":-1.1875,"t":"5","v":"pink"},{"c":59,"r":-1.1875,"t":"6","v":"pink"},{"c":60,"r":-1.1875,"t":"7","v":"pink"},{"c":61,"r":-1.1875,"t":"8","v":"pink"},{"c":62,"r":-1.1875,"t":"9","v":"pink"},{"c":63,"r":-1.1875,"t":"0","v":"pink"},{"c":64,"r":-1.1875,"t":"1","v":"pink"},{"c":65,"r":-1.1875,"t":"2","v":"pink"},{"c":66,"r":-1.1875,"t":"3","v":"pink"},
{"c":67,"r":-1.1875,"t":"0","v":"magenta"},{"c":68,"r":-1.1875,"t":"1","v":"magenta"},{"c":69,"r":-1.1875,"t":"2","v":"magenta"},{"c":70,"r":-1.1875,"t":"3","v":"magenta"},{"c":71,"r":-1.1875,"t":"4","v":"magenta"},{"c":72,"r":-1.1875,"t":"5","v":"magenta"},{"c":73,"r":-1.1875,"t":"6","v":"magenta"},{"c":74,"r":-1.1875,"t":"7","v":"magenta"},{"c":75,"r":-1.1875,"t":"8","v":"magenta"},{"c":76,"r":-1.1875,"t":"9","v":"magenta"},{"c":77,"r":-1.1875,"t":"0","v":"magenta"},{"c":78,"r":-1.1875,"t":"1","v":"magenta"},{"c":79,"r":-1.1875,"t":"2","v":"magenta"},{"c":80,"r":-1.1875,"t":"3","v":"magenta"},{"c":81,"r":-1.1875,"t":"4","v":"magenta"},
{"c":5,"r":-2.0625,"t":"1","v":"green"},{"c":6,"r":-2.0625,"t":"1","v":"green"},{"c":7,"r":-2.0625,"t":"1","v":"green"},{"c":8,"r":-2.0625,"t":"1","v":"green"},{"c":9,"r":-2.0625,"t":"1","v":"green"},{"c":10,"r":-2.0625,"t":"1","v":"green"},{"c":11,"r":-2.0625,"t":"1","v":"green"},{"c":12,"r":-2.0625,"t":"1","v":"green"},{"c":13,"r":-2.0625,"t":"1","v":"green"},{"c":14,"r":-2.0625,"t":"1","v":"green"},{"c":15,"r":-2.0625,"t":"2","v":"green"},{"c":16,"r":-2.0625,"t":"2","v":"green"},{"c":17,"r":-2.0625,"t":"2","v":"green"},{"c":18,"r":-2.0625,"t":"2","v":"green"},
{"c":29,"r":-2.0625,"t":"1","v":"yellow"},{"c":30,"r":-2.0625,"t":"1","v":"yellow"},{"c":31,"r":-2.0625,"t":"1","v":"yellow"},{"c":32,"r":-2.0625,"t":"1","v":"yellow"},{"c":33,"r":-2.0625,"t":"1","v":"yellow"},{"c":34,"r":-2.0625,"t":"1","v":"yellow"},{"c":35,"r":-2.0625,"t":"1","v":"yellow"},{"c":36,"r":-2.0625,"t":"1","v":"yellow"},{"c":37,"r":-2.0625,"t":"1","v":"yellow"},{"c":38,"r":-2.0625,"t":"1","v":"yellow"},{"c":39,"r":-2.0625,"t":"2","v":"yellow"},{"c":40,"r":-2.0625,"t":"2","v":"yellow"},{"c":41,"r":-2.0625,"t":"2","v":"yellow"},{"c":42,"r":-2.0625,"t":"2","v":"yellow"},
{"c":53,"r":-2.0625,"t":"1","v":"pink"},{"c":54,"r":-2.0625,"t":"1","v":"pink"},{"c":55,"r":-2.0625,"t":"1","v":"pink"},{"c":56,"r":-2.0625,"t":"1","v":"pink"},{"c":57,"r":-2.0625,"t":"1","v":"pink"},{"c":58,"r":-2.0625,"t":"1","v":"pink"},{"c":59,"r":-2.0625,"t":"1","v":"pink"},{"c":60,"r":-2.0625,"t":"1","v":"pink"},{"c":61,"r":-2.0625,"t":"1","v":"pink"},{"c":62,"r":-2.0625,"t":"1","v":"pink"},{"c":63,"r":-2.0625,"t":"2","v":"pink"},{"c":64,"r":-2.0625,"t":"2","v":"pink"},{"c":65,"r":-2.0625,"t":"2","v":"pink"},{"c":66,"r":-2.0625,"t":"2","v":"pink"},
{"c":77,"r":-2.0625,"t":"1","v":"magenta"},{"c":78,"r":-2.0625,"t":"1","v":"magenta"},{"c":79,"r":-2.0625,"t":"1","v":"magenta"},{"c":80,"r":-2.0625,"t":"1","v":"magenta"},{"c":81,"r":-2.0625,"t":"1","v":"magenta"},
{"c":0,"r":14.19,"t":"1","v":"magenta"},{"c":0,"r":15.1,"t":"7","v":"magenta"}
]
},
"encoding":{
"x":{"field":"c","type":"quantitative","axis":null,"scale":{"domain":[-10,81.7143],"nice":false,"zero":false}},
"y":{"field":"r","type":"quantitative","axis":null,"scale":{"domain":[-5.1875,20.3125],"nice":false,"zero":false,"reverse":true}},
"color":{"field":"v","type":"nominal","legend":null,"scale":{
"domain":["W","f","n","e","d","g","t","a","i","u","y","x","0","1","2","3","4","5","s","h0","h1","h2","h3","h4","h5","h6","T0","T1","A","B","C","O","p1","p2","p3","p4","p5","p6","p7","p8","p9","p10","p11","p12","g1","b1","b2","n1","n2","n3","n4","n5","n6","n7","sky","ground","flag","redline","green","olive","yellow","pink","magenta","brown","redtext","black","cyan","cream"],
"range":["#ffffff","#f9f9f9","#f2f2f2","#e9e9e9","#dedede","#c2c2c2","#99d8d8","#a0dfdf","#a8e8e8","#b0f0f0","#bdfcfc","#80c0c0","#003f7f","#135393","#2b6cae","#4383c7","#5b9be0","#70b0f0","#003c7c","#e00000","#b80000","#ff3c00","#ff8800","#ffcc00","#eaff10","#ee0000","#ff6000","#ff2000","#0066dd","#0099ff","#00a0ff","#ffa020","#ffc880","#ffd8a0","#ffe4bc","#ffeacc","#fff0e0","#fff6ec","#fffaf4","#fff4e8","#ffe8c8","#ffdca8","#ffcc80","#ffaa40","#70e090","#0070f0","#0060e0","#000099","#000060","#000050","#000080","#0018b0","#0a28c0","#0040d8","#0066ee","#556b00","#ff0000","#f40000","#80ff80","#c8c800","#ffff00","#ff8080","#ff00ff","#b06a30","#f40000","#000000","#00d0d0","#ffffd8"]
}}
},
"layer":[
{"data":{"name":"panels"},"mark":{"type":"rect"},"encoding":{"x2":{"field":"c2"},"y2":{"field":"r2"}}},
{"data":{"name":"cells"},"mark":{"type":"rect","width":12,"height":12}},
{"data":{"name":"links"},"mark":{"type":"rect","width":2.2,"height":8}},
{"data":{"name":"slices"},"mark":{"type":"rect","width":3,"height":12}},
{"data":{"name":"lines"},"mark":{"type":"rule","strokeWidth":2},"encoding":{"y2":{"field":"r2"}}},
{"data":{"name":"leaf"},"mark":{"type":"point","filled":true,"shape":"M0,-1 L0.3,-0.5 L0.8,-0.6 L0.6,0 L0.9,0.2 L0.15,0.7 L0.1,1 L-0.1,1 L-0.15,0.7 L-0.9,0.2 L-0.6,0 L-0.8,-0.6 L-0.3,-0.5 Z","size":70,"opacity":1}},
{"data":{"name":"labels"},"mark":{"type":"text","align":"left","baseline":"middle","font":"Liberation Mono","fontSize":15},"encoding":{"text":{"field":"t"}}},
{"data":{"name":"digits"},"mark":{"type":"text","align":"center","baseline":"middle","font":"Liberation Mono","fontSize":14},"encoding":{"text":{"field":"t"}}},
{"data":{"name":"small"},"mark":{"type":"text","align":"left","baseline":"middle","font":"DejaVu Sans Mono","fontSize":8},"encoding":{"text":{"field":"t"}}},
{"data":{"name":"logos"},"mark":{"type":"text","align":"left","baseline":"middle","font":"Liberation Sans","fontSize":8},"encoding":{"text":{"field":"t"}}},
{"data":{"name":"titles"},"mark":{"type":"text","align":"left","baseline":"middle","font":"DejaVu Sans Mono","fontWeight":"bold","fontSize":20},"encoding":{"text":{"field":"t"}}},
{"data":{"name":"side"},"mark":{"type":"text","align":"center","baseline":"middle","angle":270,"font":"DejaVu Sans Mono","fontSize":11},"encoding":{"text":{"field":"t"}}}
]
}
